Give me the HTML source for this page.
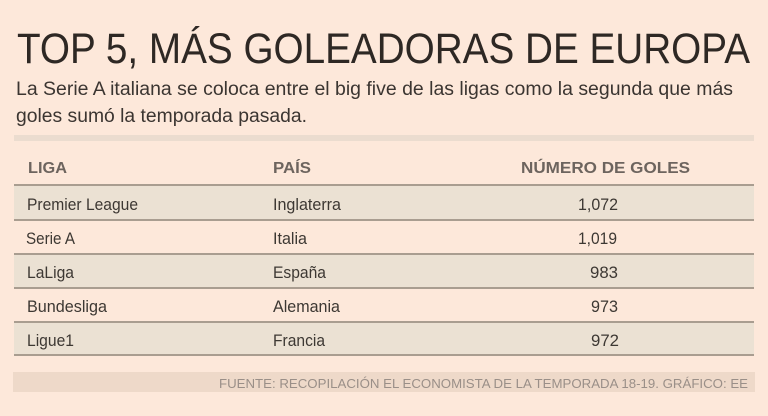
<!DOCTYPE html>
<html><head><meta charset="utf-8"><style>
html,body{margin:0;padding:0;background:#fde8da;}
svg{display:block;}
text{font-family:"Liberation Sans",sans-serif;}
</style></head><body>
<svg width="768" height="416" viewBox="0 0 768 416" xmlns="http://www.w3.org/2000/svg">
<rect x="0" y="0" width="768" height="416" fill="#fde8da"/>
<text x="17" y="63" font-size="43" fill="#2e2824" textLength="733" lengthAdjust="spacingAndGlyphs">TOP 5, MÁS GOLEADORAS DE EUROPA</text>
<text x="16" y="95" font-size="19" fill="#3b3531" textLength="717" lengthAdjust="spacingAndGlyphs">La Serie A italiana se coloca entre el big five de las ligas como la segunda que más</text>
<text x="16" y="122" font-size="19" fill="#3b3531" textLength="291" lengthAdjust="spacingAndGlyphs">goles sumó la temporada pasada.</text>
<rect x="14" y="135" width="740" height="6" fill="#ebdccf"/>
<g font-size="16" font-weight="bold" fill="#6d645e">
<text x="28" y="173" textLength="39" lengthAdjust="spacingAndGlyphs">LIGA</text>
<text x="273" y="173" textLength="38" lengthAdjust="spacingAndGlyphs">PAÍS</text>
<text x="521" y="173" textLength="169" lengthAdjust="spacingAndGlyphs">NÚMERO DE GOLES</text>
</g>
<rect x="14" y="186" width="740" height="33" fill="#ebe1d3"/>
<rect x="14" y="255" width="740" height="32" fill="#ebe1d3"/>
<rect x="14" y="323" width="740" height="31" fill="#ebe1d3"/>
<g fill="#a99d90">
<rect x="14" y="184" width="740" height="2"/>
<rect x="14" y="219" width="740" height="2"/>
<rect x="14" y="253" width="740" height="2"/>
<rect x="14" y="287" width="740" height="2"/>
<rect x="14" y="321" width="740" height="2"/>
<rect x="14" y="354" width="740" height="2"/>
</g>
<g font-size="17" fill="#3d3833">
<text x="27" y="210" textLength="111" lengthAdjust="spacingAndGlyphs">Premier League</text>
<text x="26" y="244" textLength="49" lengthAdjust="spacingAndGlyphs">Serie A</text>
<text x="27" y="278" textLength="47" lengthAdjust="spacingAndGlyphs">LaLiga</text>
<text x="27" y="312" textLength="80" lengthAdjust="spacingAndGlyphs">Bundesliga</text>
<text x="27" y="346" textLength="47" lengthAdjust="spacingAndGlyphs">Ligue1</text>
<text x="273" y="210" textLength="68" lengthAdjust="spacingAndGlyphs">Inglaterra</text>
<text x="273" y="244" textLength="34" lengthAdjust="spacingAndGlyphs">Italia</text>
<text x="273" y="278" textLength="53" lengthAdjust="spacingAndGlyphs">España</text>
<text x="273" y="312" textLength="67" lengthAdjust="spacingAndGlyphs">Alemania</text>
<text x="273" y="346" textLength="52" lengthAdjust="spacingAndGlyphs">Francia</text>
<text x="578" y="210" textLength="40" lengthAdjust="spacingAndGlyphs">1,072</text>
<text x="578" y="244" textLength="39" lengthAdjust="spacingAndGlyphs">1,019</text>
<text x="590" y="278" textLength="28" lengthAdjust="spacingAndGlyphs">983</text>
<text x="591" y="312" textLength="27" lengthAdjust="spacingAndGlyphs">973</text>
<text x="591" y="346" textLength="28" lengthAdjust="spacingAndGlyphs">972</text>
</g>
<rect x="13" y="372" width="742" height="20" fill="#eed9c9"/>
<text x="219" y="388" font-size="12.5" fill="#9a8f88" textLength="529" lengthAdjust="spacingAndGlyphs">FUENTE: RECOPILACIÓN EL ECONOMISTA DE LA TEMPORADA 18-19.  GRÁFICO: EE</text>
</svg>
</body></html>
